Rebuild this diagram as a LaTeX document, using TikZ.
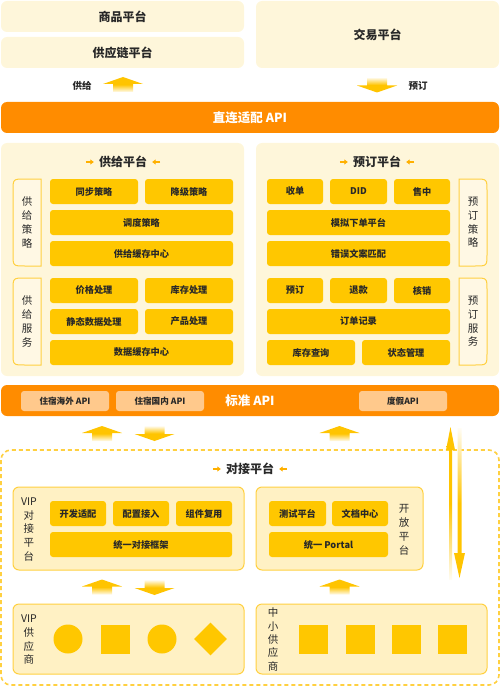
\documentclass[tikz,border=0pt]{standalone}
\usepackage{fontspec}
\setmainfont{Noto Sans CJK SC}
\usepackage{xcolor}
\usetikzlibrary{arrows.meta,shapes.geometric}
\definecolor{cream}{RGB}{254,246,218}
\definecolor{cellyellow}{RGB}{255,199,0}
\definecolor{barorange}{RGB}{255,140,0}
\definecolor{apisub}{RGB}{255,201,140}
\definecolor{boxfill}{RGB}{255,241,196}
\definecolor{boxline}{RGB}{255,208,64}
\definecolor{sidefill}{RGB}{255,248,228}
\definecolor{arrowyellow}{RGB}{255,196,0}
\definecolor{tipyellow}{RGB}{255,176,0}
\definecolor{ink}{RGB}{40,40,40}

\begin{document}
\begin{tikzpicture}[x=1pt, y=-1pt,
		panel/.style={fill=cream, rounded corners=6pt, inner sep=0pt, text=ink, font=\fontsize{12}{14}\selectfont\bfseries},
		bar/.style={fill=barorange, rounded corners=6pt, inner sep=0pt, text=white, font=\fontsize{12.5}{14}\selectfont\bfseries},
		cell/.style={fill=cellyellow, rounded corners=3pt, minimum height=25pt, inner sep=0pt, text=ink, font=\fontsize{9.2}{11}\selectfont\bfseries},
		apibox/.style={fill=apisub, rounded corners=3pt, minimum width=88pt, minimum height=20pt, inner sep=0pt, text=ink, font=\fontsize{8.6}{10}\selectfont\bfseries},
		dockbox/.style={fill=boxfill, draw=boxline, line width=1pt, rounded corners=6pt, inner sep=0pt},
		sidebox/.style={fill=sidefill, draw=boxline, line width=1pt},
		vlabel/.style={inner sep=0pt, align=center, text=ink, font=\fontsize{10.5}{13.7}\selectfont},
		title/.style={inner sep=0pt, text=ink, font=\fontsize{12}{14}\selectfont\bfseries},
		flowlabel/.style={inner sep=0pt, text=ink, font=\fontsize{9.5}{11}\selectfont\bfseries},
		titlearrow/.style={-{Triangle[length=3.5pt,width=5pt]}, line width=1.6pt, draw=tipyellow},
		supplier/.style={fill=cellyellow, inner sep=0pt},
		uparr/.pic={\shade[top color=arrowyellow, bottom color=arrowyellow!6, middle color=arrowyellow] (0,-7.5) -- (20,-0.5) -- (10,-0.5) -- (10,7.5) -- (-10,7.5) -- (-10,-0.5) -- (-20,-0.5) -- cycle;},
		downarr/.pic={\shade[top color=arrowyellow!6, bottom color=arrowyellow, middle color=arrowyellow] (0,7.5) -- (20,0.5) -- (10,0.5) -- (10,-7.5) -- (-10,-7.5) -- (-10,0.5) -- (-20,0.5) -- cycle;}]
	\useasboundingbox (0,0) rectangle (500,687);

	% top platforms
	\node[panel, minimum width=243pt, minimum height=31pt] (goods) at (122.5,16.5) {商品平台};
	\node[panel, minimum width=243pt, minimum height=31pt] (supplychain) at (122.5,52.5) {供应链平台};
	\node[panel, minimum width=243pt, minimum height=67pt] (trade) at (377.5,34.5) {交易平台};
	\pic at (123,84.5) {uparr};
	\node[flowlabel] (supplyflow) at (82,86) {供给};
	\pic at (377,85) {downarr};
	\node[flowlabel] (bookflow) at (418,86) {预订};
	\node[bar, minimum width=498pt, minimum height=31pt] (directapi) at (250,117.5) {直连适配 API};

	% supply platform
	\node[panel, minimum width=243pt, minimum height=233pt] (suppanel) at (122.5,259.5) {};
	\node[title] (suptitle) at (123,162) {供给平台};
	\draw[titlearrow] ([xshift=-13pt]suptitle.west) -- ([xshift=-5pt]suptitle.west);
	\draw[titlearrow] ([xshift=13pt]suptitle.east) -- ([xshift=5pt]suptitle.east);
	\path[sidebox] (41,179) -- (25,179) .. controls (13,179) .. (13,191) -- (13,254) .. controls (13,266) .. (25,266) -- (41,266) -- cycle;
	\node[vlabel] (supstrat) at (27,222.5) {供\\给\\策\\略};
	\path[sidebox] (41,278) -- (25,278) .. controls (13,278) .. (13,290) -- (13,353) .. controls (13,365) .. (25,365) -- (41,365) -- cycle;
	\node[vlabel] (supserv) at (27,321.5) {供\\给\\服\\务};
	\node[cell, minimum width=88pt] (sync) at (94,191.5) {同步策略};
	\node[cell, minimum width=88pt] (degrade) at (189,191.5) {降级策略};
	\node[cell, minimum width=183pt] (dispatch) at (141.5,222.5) {调度策略};
	\node[cell, minimum width=183pt] (supcache) at (141.5,253.5) {供给缓存中心};
	\node[cell, minimum width=88pt] (price) at (94,290.5) {价格处理};
	\node[cell, minimum width=88pt] (stock) at (189,290.5) {库存处理};
	\node[cell, minimum width=88pt] (static) at (94,321.5) {静态数据处理};
	\node[cell, minimum width=88pt] (product) at (189,321.5) {产品处理};
	\node[cell, minimum width=183pt] (datacache) at (141.5,352.5) {数据缓存中心};

	% booking platform
	\node[panel, minimum width=243pt, minimum height=233pt] (bookpanel) at (377.5,259.5) {};
	\node[title] (booktitle) at (377,162) {预订平台};
	\draw[titlearrow] ([xshift=-13pt]booktitle.west) -- ([xshift=-5pt]booktitle.west);
	\draw[titlearrow] ([xshift=13pt]booktitle.east) -- ([xshift=5pt]booktitle.east);
	\node[cell, minimum width=56pt] (accept) at (295,191.5) {收单};
	\node[cell, minimum width=57pt] (did) at (358.5,191.5) {DID};
	\node[cell, minimum width=56pt] (insale) at (422,191.5) {售中};
	\node[cell, minimum width=183pt] (mockorder) at (358.5,222.5) {模拟下单平台};
	\node[cell, minimum width=183pt] (errmatch) at (358.5,253.5) {错误文案匹配};
	\node[cell, minimum width=56pt] (reserve) at (295,290.5) {预订};
	\node[cell, minimum width=57pt] (refund) at (358.5,290.5) {退款};
	\node[cell, minimum width=56pt] (verify) at (422,290.5) {核销};
	\node[cell, minimum width=183pt] (orderlog) at (358.5,321.5) {订单记录};
	\node[cell, minimum width=88pt] (stockquery) at (311,352.5) {库存查询};
	\node[cell, minimum width=88pt] (status) at (406,352.5) {状态管理};
	\path[sidebox] (459,179) -- (475,179) .. controls (487,179) .. (487,191) -- (487,254) .. controls (487,266) .. (475,266) -- (459,266) -- cycle;
	\node[vlabel] (bookstrat) at (473,222.5) {预\\订\\策\\略};
	\path[sidebox] (459,278) -- (475,278) .. controls (487,278) .. (487,290) -- (487,353) .. controls (487,365) .. (475,365) -- (459,365) -- cycle;
	\node[vlabel] (bookserv) at (473,321.5) {预\\订\\服\\务};

	% standard api
	\node[bar, minimum width=498pt, minimum height=31pt] (stdapi) at (250,400.5) {标准 API};
	\node[apibox] (overseas) at (65,401) {住宿海外 API};
	\node[apibox] (domestic) at (160,401) {住宿国内 API};
	\node[apibox] (holiday) at (403,401) {度假API};
	\pic at (102,433.5) {uparr};
	\pic at (154.5,433.5) {downarr};
	\pic at (339.5,433.5) {uparr};

	% docking platform
	\draw[draw=boxline, line width=1.6pt, dash pattern=on 4pt off 3pt, rounded corners=10pt] (1,450) rectangle (499,685);
	\node[title] (docktitle) at (250,469) {对接平台};
	\draw[titlearrow] ([xshift=-13pt]docktitle.west) -- ([xshift=-5pt]docktitle.west);
	\draw[titlearrow] ([xshift=13pt]docktitle.east) -- ([xshift=5pt]docktitle.east);
	\node[dockbox, minimum width=231pt, minimum height=83pt] (vipdock) at (128.5,528.5) {};
	\node[vlabel] (vipdocklabel) at (29,529.5) {VIP\\对\\接\\平\\台};
	\node[cell, minimum width=56pt] (adapt) at (78,513.5) {开发适配};
	\node[cell, minimum width=56pt] (config) at (141,513.5) {配置接入};
	\node[cell, minimum width=56pt] (reuse) at (204,513.5) {组件复用};
	\node[cell, minimum width=182pt] (framework) at (141,544.5) {统一对接框架};
	\node[dockbox, minimum width=167pt, minimum height=83pt] (opendock) at (339.5,528.5) {};
	\node[cell, minimum width=57pt] (testing) at (297.5,513.5) {测试平台};
	\node[cell, minimum width=56pt] (docs) at (360,513.5) {文档中心};
	\node[cell, minimum width=119pt] (portal) at (328.5,544.5) {统一 Portal};
	\node[vlabel, font=\fontsize{10.5}{14}\selectfont] (opendocklabel) at (404,529.5) {开\\放\\平\\台};
	\pic at (102,587) {uparr};
	\pic at (154.5,587.5) {downarr};
	\pic at (339.5,587) {uparr};

	% suppliers
	\node[dockbox, minimum width=231pt, minimum height=70pt] (vipsup) at (128.5,639) {};
	\node[vlabel] (vipsuplabel) at (29,640) {VIP\\供\\应\\商};
	\node[supplier, circle, minimum size=29pt] (vipa) at (68,639) {};
	\node[supplier, rectangle, minimum size=29pt] (vipb) at (115.5,639) {};
	\node[supplier, circle, minimum size=29pt] (vipc) at (162,639) {};
	\node[supplier, diamond, minimum size=33pt] (vipd) at (210.5,639) {};
	\node[dockbox, minimum width=231pt, minimum height=70pt] (smesup) at (371.5,639) {};
	\node[vlabel, font=\fontsize{10.5}{13.3}\selectfont] (smesuplabel) at (273,639.5) {中\\小\\供\\应\\商};
	\foreach \sx [count=\i] in {313.5,360,406.5,452.5}
		\node[supplier, rectangle, minimum size=29pt] (sme\i) at (\sx,639) {};

	% long arrows on the right
	\shade[top color=arrowyellow, bottom color=arrowyellow!4, middle color=arrowyellow] (450.5,427) -- (455,450) -- (452,450) -- (452,580) -- (449,580) -- (449,450) -- (446,450) -- cycle;
	\shade[top color=arrowyellow!4, bottom color=arrowyellow, middle color=arrowyellow] (457.5,428) -- (461.5,428) -- (461.5,553) -- (465,553) -- (459.5,578) -- (454,553) -- (457.5,553) -- cycle;
\end{tikzpicture}
\end{document}
